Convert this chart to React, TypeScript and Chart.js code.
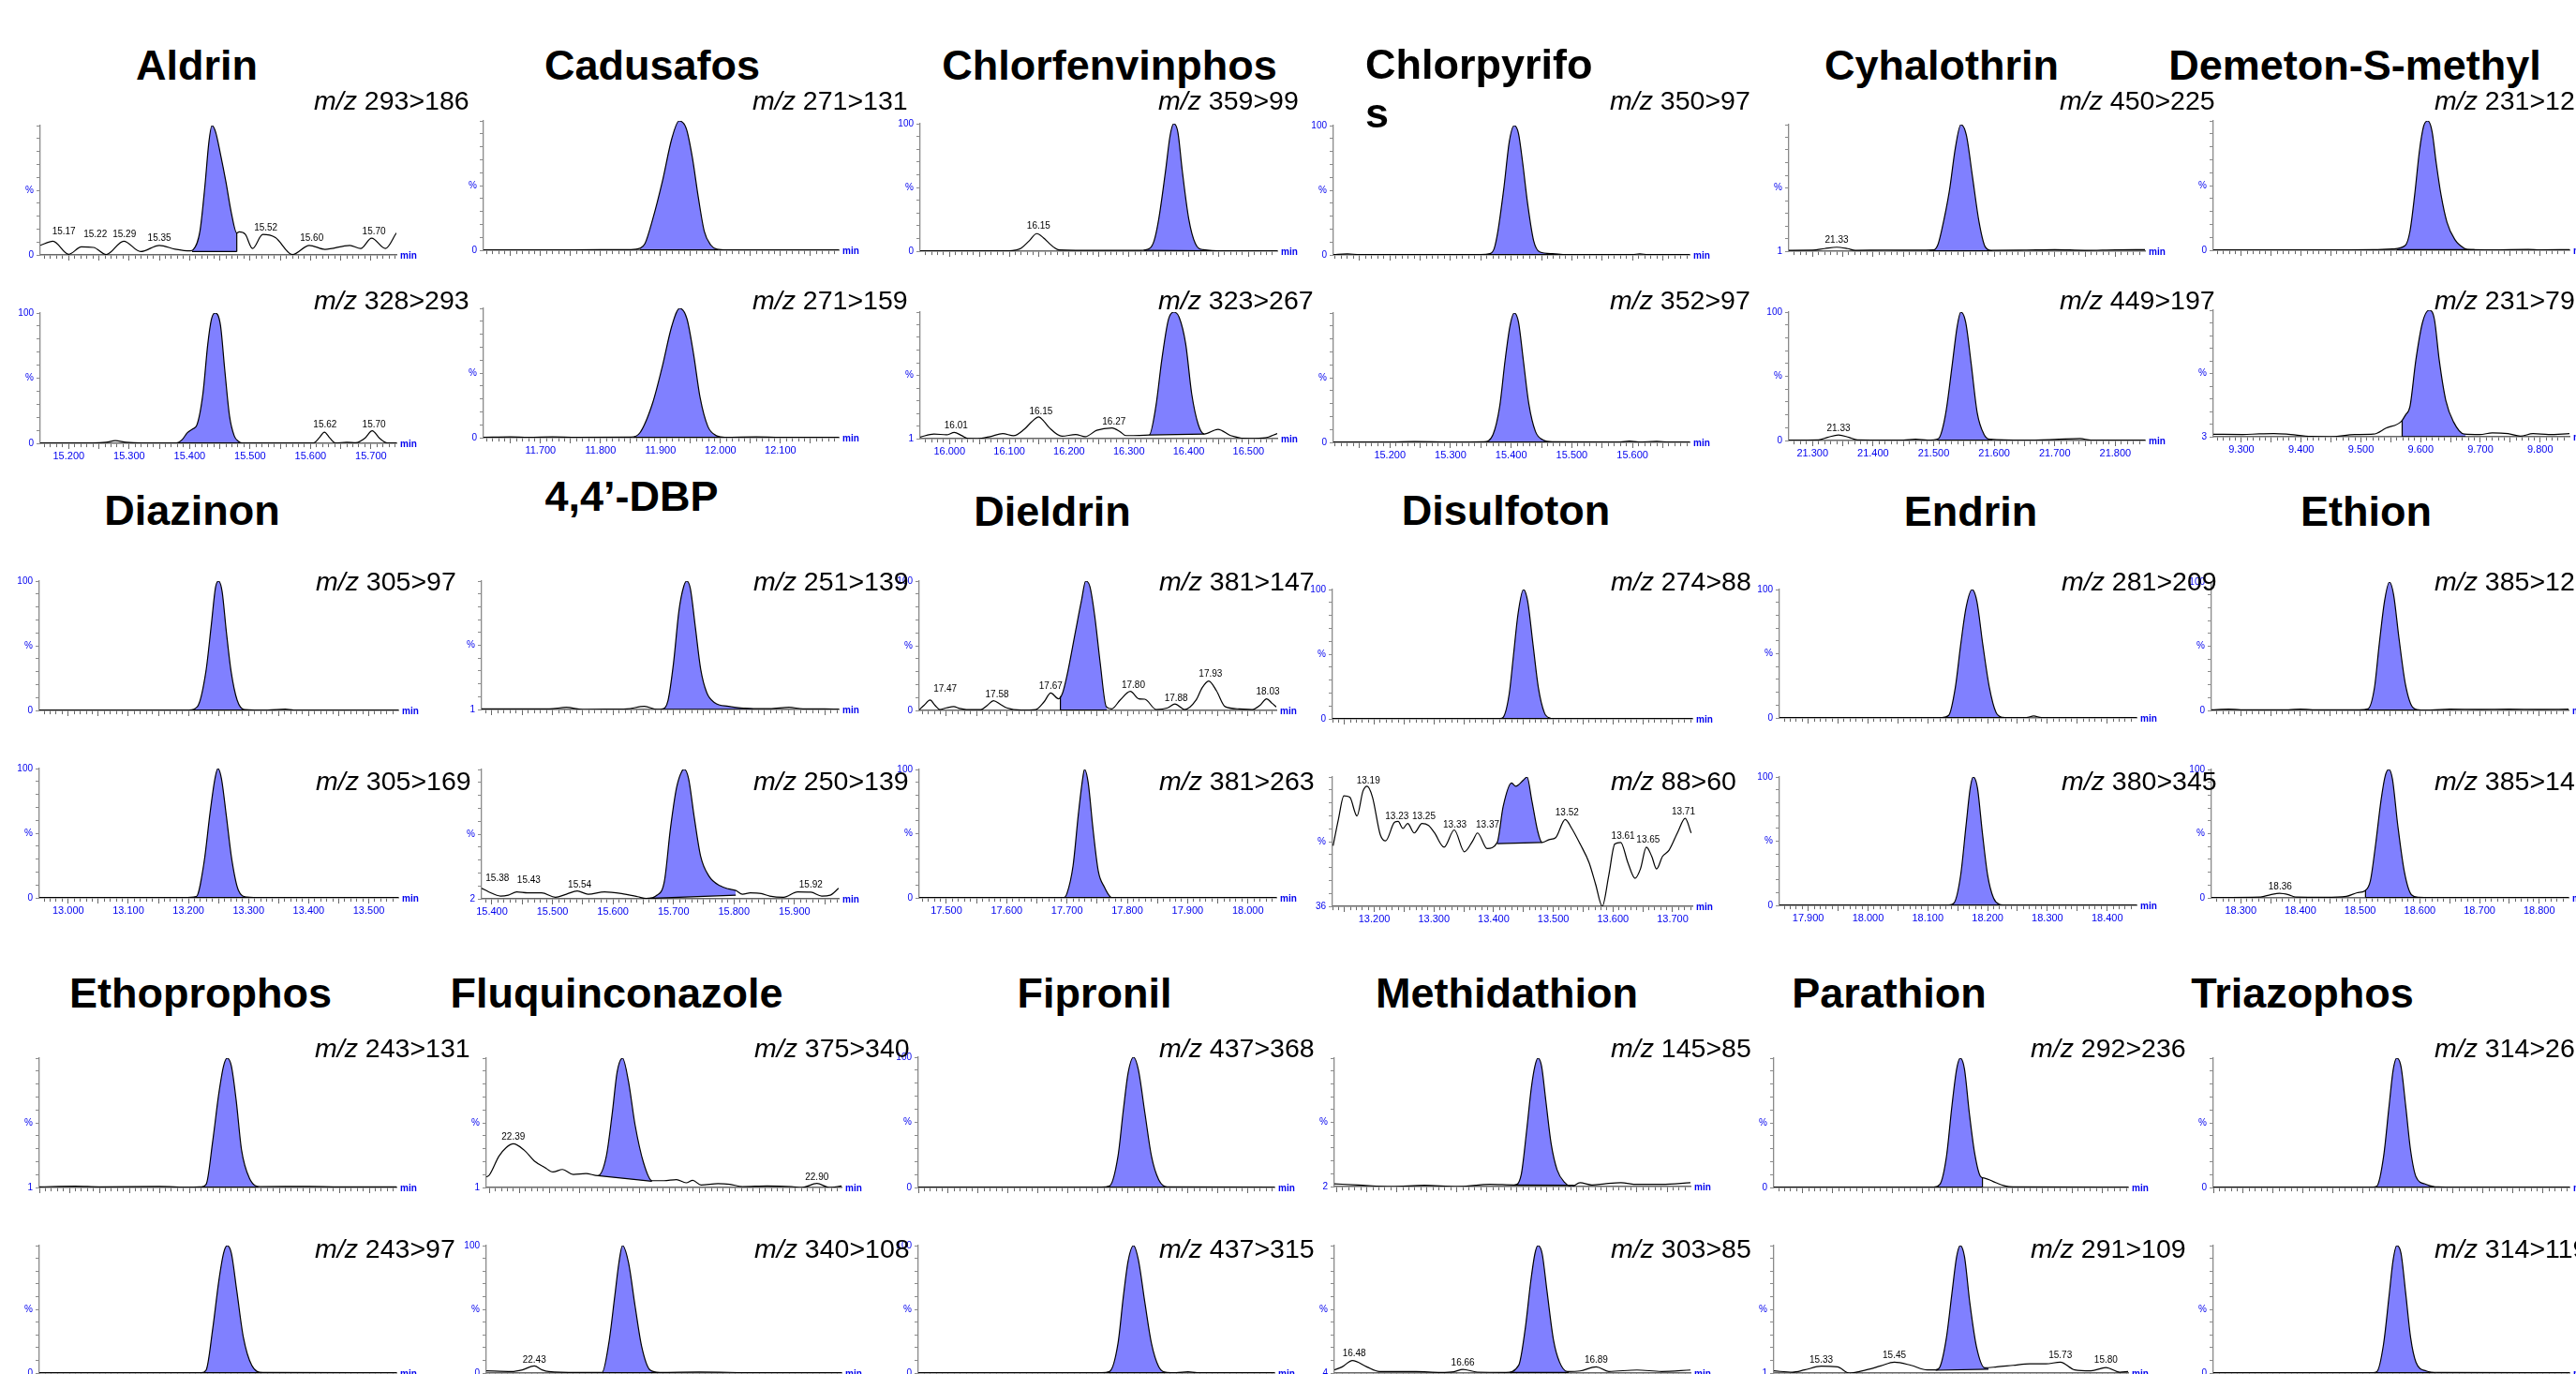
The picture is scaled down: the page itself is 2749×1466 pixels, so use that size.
import React, { useEffect, useRef } from 'react';
import { Chart, registerables } from 'chart.js';

Chart.register(...registerables);

const FONT = '"Liberation Sans", Arial, Helvetica, sans-serif';
const FILL = '#8080ff';
const BLUE = '#0000ee';
const AXIS = '#666666';

type Pt = [number, number];
type Mark = [number, number, string];
type Edge = [number, number, number];

// ---------------- DATA ----------------
const compoundNames = ['Aldrin', 'Cadusafos', 'Chlorfenvinphos', 'Chlorpyrifos', 'Cyhalothrin', 'Demeton-S-methyl',
  'Diazinon', '4,4\u2019-DBP', 'Dieldrin', 'Disulfoton', 'Endrin', 'Ethion',
  'Ethoprophos', 'Fluquinconazole', 'Fipronil', 'Methidathion', 'Parathion', 'Triazophos'];
const transitionTop = ['293>186', '271>131', '359>99', '350>97', '450>225', '231>125', '305>97', '251>139', '381>147',
  '274>88', '281>209', '385>125', '243>131', '375>340', '437>368', '145>85', '292>236', '314>262'];
const transitionBottom = ['328>293', '271>159', '323>267', '352>97', '449>197', '231>79', '305>169', '250>139', '381>263',
  '88>60', '380>345', '385>143', '243>97', '340>108', '437>315', '303>85', '291>109', '314>119'];
const timeStart = [15.153, 11.605, 15.951, 15.107, 21.261, 9.253, 12.952, 15.383, 17.455, 13.130, 17.852, 18.251,
  11.000, 22.345, 15.650, 16.446, 15.252, 19.100];
const timeEnd = [15.742, 12.197, 16.548, 15.694, 21.849, 9.849, 13.549, 15.973, 18.047, 13.733, 18.449, 18.849,
  11.595, 22.937, 16.244, 17.039, 15.843, 19.694];
const xTickLabels: string[][] = [
  ['15.200', '15.300', '15.400', '15.500', '15.600', '15.700'],
  ['11.700', '11.800', '11.900', '12.000', '12.100'],
  ['16.000', '16.100', '16.200', '16.300', '16.400', '16.500'],
  ['15.200', '15.300', '15.400', '15.500', '15.600'],
  ['21.300', '21.400', '21.500', '21.600', '21.700', '21.800'],
  ['9.300', '9.400', '9.500', '9.600', '9.700', '9.800'],
  ['13.000', '13.100', '13.200', '13.300', '13.400', '13.500'],
  ['15.400', '15.500', '15.600', '15.700', '15.800', '15.900'],
  ['17.500', '17.600', '17.700', '17.800', '17.900', '18.000'],
  ['13.200', '13.300', '13.400', '13.500', '13.600', '13.700'],
  ['17.900', '18.000', '18.100', '18.200', '18.300', '18.400'],
  ['18.300', '18.400', '18.500', '18.600', '18.700', '18.800'],
  [], [], [], [], [], [],
];
const yBaseTop = ['0', '0', '0', '0', '1', '0', '0', '1', '0', '0', '0', '0', '1', '1', '0', '2', '0', '0'];
const yBaseBottom = ['0', '0', '1', '0', '0', '3', '0', '2', '0', '36', '0', '0', '0', '0', '0', '4', '1', '0'];
const y100Top = [false, false, true, true, false, false, true, false, true, true, true, true, false, false, true, false, false, false];
const y100Bottom = [true, false, false, false, true, false, true, false, true, false, true, true, false, true, true, false, false, false];

// traces: [retention time (min), relative intensity (%)]
const aldrinTop: Pt[] = [[15.153, 7.4], [15.174, 10.6], [15.200, 0.5], [15.221, 6.2], [15.241, 5.8], [15.262, 0.3], [15.291, 10.6], [15.319, 2.6], [15.350, 7.4], [15.376, 4.5], [15.401, 3.1], [15.406, 4], [15.417, 18.2], [15.425, 51.8], [15.432, 87.8], [15.437, 100], [15.443, 95], [15.451, 78], [15.460, 56.6], [15.469, 32.6], [15.478, 17], [15.482, 17.8], [15.492, 16], [15.504, 5], [15.521, 15.8], [15.542, 13.4], [15.570, 0.3], [15.598, 7.4], [15.624, 4.3], [15.665, 7.4], [15.683, 5], [15.701, 13], [15.724, 5], [15.742, 17]];
const aldrinBottom: Pt[] = [[15.153, 0.3], [15.240, 0.3], [15.262, 0.8], [15.277, 2], [15.295, 0.8], [15.320, 0.3], [15.378, 0.3], [15.388, 3], [15.396, 8], [15.405, 11], [15.412, 14], [15.422, 38], [15.430, 76], [15.436, 95], [15.442, 100], [15.451, 90.7], [15.458, 57], [15.466, 21], [15.474, 5.5], [15.481, 1.5], [15.487, 0.3], [15.605, 0.3], [15.614, 4], [15.623, 8.6], [15.632, 4], [15.641, 0.3], [15.660, 0.8], [15.675, 0.5], [15.690, 4], [15.702, 9.6], [15.714, 4], [15.727, 0.3], [15.742, 0.3]];
const cadusafosTop: Pt[] = [[11.605, 0.3], [11.700, 0.3], [11.800, 0.4], [11.850, 0.5], [11.866, 1.5], [11.874, 5], [11.887, 24], [11.903, 53], [11.919, 86.6], [11.931, 100], [11.943, 94], [11.953, 72], [11.963, 41], [11.973, 14.6], [11.984, 4], [11.994, 0.8], [12.010, 0.3], [12.100, 0.3], [12.197, 0.3]];
const cadusafosBottom: Pt[] = [[11.605, 0.3], [11.650, 0.6], [11.680, 0.3], [11.720, 0.6], [11.760, 0.3], [11.851, 0.5], [11.866, 4], [11.887, 27], [11.903, 55], [11.919, 86.6], [11.932, 100], [11.944, 92], [11.955, 65], [11.966, 31], [11.979, 8.6], [11.994, 1.4], [12.007, 0.3], [12.060, 0.6], [12.100, 0.3], [12.197, 0.3]];
const chlorfenTop: Pt[] = [[15.951, 0.3], [16.100, 0.3], [16.110, 0.8], [16.120, 2.4], [16.133, 8], [16.146, 13.8], [16.157, 10.5], [16.167, 6], [16.176, 2.5], [16.183, 1], [16.250, 0.6], [16.319, 0.6], [16.334, 2], [16.342, 8], [16.350, 25.5], [16.361, 62], [16.369, 91], [16.375, 100], [16.382, 93], [16.389, 64], [16.400, 25.5], [16.411, 6], [16.424, 1.2], [16.460, 0.3], [16.548, 0.3]];
const chlorfenBottom: Pt[] = [[15.951, 2.2], [15.974, 4.6], [15.995, 4], [16.008, 5.8], [16.020, 3.5], [16.031, 1.1], [16.047, 1], [16.068, 2.6], [16.089, 5], [16.107, 3.3], [16.125, 8.3], [16.137, 14], [16.149, 17.9], [16.158, 14.5], [16.167, 9.5], [16.188, 2.9], [16.211, 4.2], [16.227, 2.5], [16.246, 7.5], [16.272, 9.4], [16.285, 6.5], [16.295, 3.4], [16.334, 3.9], [16.345, 26], [16.355, 62.7], [16.366, 94], [16.375, 100], [16.384, 96], [16.395, 75], [16.405, 36], [16.416, 12], [16.426, 4.6], [16.449, 8.3], [16.470, 3.4], [16.502, 1.1], [16.528, 1.6], [16.548, 5]];
const chlorpyrTop: Pt[] = [[15.107, 0.3], [15.130, 0.8], [15.150, 0.3], [15.250, 0.3], [15.350, 0.3], [15.365, 1], [15.372, 5], [15.378, 18], [15.388, 52], [15.397, 88], [15.405, 100], [15.412, 94], [15.419, 71], [15.427, 40], [15.437, 11], [15.447, 2.4], [15.468, 1], [15.491, 0.3], [15.600, 0.3], [15.612, 0.8], [15.625, 0.3], [15.694, 0.3]];
const chlorpyrBottom: Pt[] = [[15.107, 0.3], [15.200, 0.3], [15.240, 0.6], [15.300, 0.3], [15.355, 0.5], [15.370, 6], [15.381, 27.6], [15.390, 63.6], [15.398, 90], [15.405, 100], [15.412, 93], [15.420, 63.6], [15.429, 30], [15.440, 8.4], [15.452, 2], [15.468, 0.5], [15.580, 0.3], [15.595, 1], [15.610, 0.3], [15.640, 0.8], [15.660, 0.3], [15.694, 0.3]];
const cyhaloTop: Pt[] = [[21.261, 1.7], [21.300, 1.8], [21.320, 3], [21.340, 4.1], [21.358, 3], [21.371, 1.7], [21.420, 1.9], [21.470, 1.8], [21.500, 2], [21.507, 6], [21.513, 16.7], [21.526, 48], [21.536, 82], [21.545, 100], [21.554, 92], [21.564, 60], [21.575, 24], [21.585, 4.6], [21.595, 1.7], [21.650, 1.9], [21.700, 2.2], [21.750, 1.7], [21.800, 2.1], [21.849, 2.2]];
const cyhaloBottom: Pt[] = [[21.261, 0.3], [21.310, 0.5], [21.325, 2.5], [21.343, 4.3], [21.360, 2.5], [21.374, 0.5], [21.450, 0.3], [21.470, 1], [21.490, 0.3], [21.508, 1.5], [21.514, 8], [21.521, 24], [21.531, 60], [21.539, 89], [21.545, 100], [21.553, 92], [21.562, 60], [21.572, 21.7], [21.583, 5], [21.593, 1], [21.650, 0.3], [21.700, 0.8], [21.742, 1.5], [21.760, 0.3], [21.849, 0.3]];
const demetonTop: Pt[] = [[9.253, 0.3], [9.400, 0.3], [9.480, 0.3], [9.521, 0.4], [9.553, 1], [9.574, 3.6], [9.582, 14.5], [9.590, 43], [9.598, 77], [9.605, 96], [9.612, 100], [9.619, 92], [9.626, 67.5], [9.634, 43], [9.644, 21.7], [9.657, 8.4], [9.673, 1.5], [9.684, 0.4], [9.720, 0.3], [9.780, 0.6], [9.800, 0.3], [9.849, 0.5]];
const demetonBottom: Pt[] = [[9.253, 4.9], [9.302, 4.7], [9.330, 5.2], [9.354, 5.4], [9.375, 5], [9.417, 3.2], [9.448, 3], [9.490, 4.7], [9.521, 5], [9.542, 9.6], [9.568, 15], [9.575, 20], [9.582, 26], [9.592, 62], [9.603, 90.5], [9.614, 100], [9.623, 93], [9.631, 62], [9.642, 31], [9.655, 14.4], [9.673, 5], [9.699, 4.7], [9.720, 6], [9.746, 5.4], [9.767, 3.5], [9.788, 5.4], [9.814, 4.7], [9.849, 5.4]];
const diazinonTop: Pt[] = [[12.952, 0.3], [13.100, 0.3], [13.201, 0.3], [13.215, 3], [13.229, 30], [13.238, 66], [13.245, 95], [13.250, 100], [13.256, 92], [13.263, 61], [13.271, 30], [13.281, 8], [13.293, 0.7], [13.332, 0.3], [13.361, 1], [13.375, 0.3], [13.549, 0.3]];
const diazinonBottom: Pt[] = [[12.952, 0.3], [13.192, 0.3], [13.213, 1], [13.226, 27.6], [13.236, 66], [13.244, 92], [13.249, 100], [13.255, 92], [13.263, 63.5], [13.272, 30], [13.283, 6], [13.297, 0.7], [13.324, 0.3], [13.549, 0.3]];
const dbpTop: Pt[] = [[15.383, 1.5], [15.450, 1.5], [15.495, 1.5], [15.523, 2.7], [15.550, 1], [15.586, 1.2], [15.623, 1.5], [15.652, 3.4], [15.673, 1.1], [15.682, 1.5], [15.691, 8], [15.700, 36.5], [15.709, 77], [15.717, 96], [15.722, 100], [15.728, 94], [15.736, 65], [15.745, 32], [15.755, 14], [15.768, 6.3], [15.791, 3.4], [15.818, 2], [15.832, 1.7], [15.859, 1.7], [15.891, 2.7], [15.914, 1.5], [15.950, 1.4], [15.973, 1.2]];
const dbpBottom: Pt[] = [[15.383, 10], [15.395, 7.2], [15.414, 4.1], [15.427, 4.8], [15.441, 7.2], [15.459, 6.5], [15.482, 6.5], [15.505, 3.2], [15.523, 5.5], [15.541, 7.9], [15.559, 5.5], [15.586, 7.2], [15.614, 6], [15.641, 3.6], [15.655, 2.2], [15.673, 4.8], [15.685, 15.4], [15.695, 55.3], [15.705, 86], [15.714, 98.8], [15.718, 100], [15.725, 93], [15.734, 64.8], [15.745, 34], [15.759, 19], [15.777, 11.9], [15.791, 9.5], [15.803, 8.3], [15.814, 5.5], [15.827, 6.5], [15.845, 6], [15.859, 4.1], [15.882, 3.2], [15.905, 7.2], [15.927, 7], [15.945, 4.1], [15.959, 4.8], [15.973, 10]];
const dieldrinTop: Pt[] = [[17.455, 0.5], [17.463, 4], [17.473, 8], [17.481, 4], [17.489, 0.7], [17.500, 2], [17.512, 3], [17.522, 1.5], [17.533, 0.7], [17.557, 0.7], [17.568, 4], [17.578, 7.5], [17.590, 4.5], [17.600, 2], [17.624, 0.3], [17.648, 0.7], [17.662, 6.7], [17.673, 13.5], [17.686, 9], [17.693, 14], [17.700, 27], [17.714, 61], [17.724, 85], [17.731, 100], [17.738, 95.7], [17.746, 72.8], [17.755, 36.8], [17.765, 3], [17.774, 1.2], [17.788, 8], [17.805, 14.7], [17.819, 9], [17.829, 8.7], [17.848, 0.7], [17.867, 2], [17.879, 5], [17.895, 0.7], [17.914, 8], [17.924, 17.5], [17.935, 22.8], [17.948, 15], [17.962, 3], [17.986, 1.2], [18.007, 0.7], [18.020, 4], [18.031, 9], [18.040, 5.5], [18.047, 2.6]];
const dieldrinBottom: Pt[] = [[17.455, 0.3], [17.600, 0.3], [17.695, 0.3], [17.700, 3.6], [17.710, 25], [17.719, 66], [17.726, 93], [17.729, 100], [17.735, 90], [17.743, 54], [17.752, 20.5], [17.762, 8.4], [17.771, 1.2], [17.774, 0.3], [18.047, 0.3]];
const disulfotonTop: Pt[] = [[13.130, 0.3], [13.300, 0.3], [13.411, 0.3], [13.416, 1.2], [13.426, 19], [13.433, 48], [13.441, 81.5], [13.450, 100], [13.457, 91], [13.466, 57.5], [13.475, 24], [13.485, 4.8], [13.495, 0.5], [13.498, 0.3], [13.733, 0.3]];
const disulfotonBottom: Pt[] = [[13.131, 66], [13.140, 79.2], [13.149, 90.7], [13.159, 90], [13.171, 80.7], [13.181, 93], [13.188, 95.4], [13.197, 90], [13.210, 71.5], [13.219, 68.4], [13.234, 77.6], [13.240, 78], [13.248, 74.5], [13.256, 77], [13.267, 72.3], [13.280, 77], [13.291, 76], [13.301, 72.3], [13.317, 65.3], [13.334, 73.8], [13.351, 63], [13.365, 68.4], [13.373, 72.3], [13.389, 64.6], [13.406, 67.6], [13.416, 85.4], [13.430, 97], [13.437, 95.4], [13.450, 98.5], [13.456, 100], [13.464, 88.4], [13.474, 73], [13.481, 67.6], [13.493, 69], [13.504, 70], [13.520, 79], [13.531, 74.5], [13.545, 66.8], [13.560, 57.6], [13.571, 46.8], [13.582, 36], [13.593, 51.4], [13.603, 66.8], [13.613, 67.6], [13.625, 57.6], [13.637, 49.9], [13.646, 54.5], [13.656, 65.3], [13.665, 60.7], [13.673, 54.5], [13.683, 60.7], [13.694, 63.8], [13.709, 73], [13.721, 79.5], [13.731, 72.3]];
const endrinTop: Pt[] = [[17.852, 0.3], [18.000, 0.3], [18.124, 0.3], [18.135, 2], [18.146, 23.6], [18.155, 57], [18.164, 86], [18.174, 100], [18.182, 91], [18.192, 57], [18.203, 23.6], [18.214, 4.3], [18.225, 0.5], [18.234, 0.3], [18.265, 0.3], [18.277, 1.5], [18.290, 0.3], [18.449, 0.3]];
const endrinBottom: Pt[] = [[17.852, 0.3], [18.135, 0.3], [18.144, 2], [18.155, 23.7], [18.164, 62.5], [18.171, 91.5], [18.176, 100], [18.183, 91.5], [18.191, 57.6], [18.200, 23.7], [18.210, 5.6], [18.220, 0.7], [18.225, 0.3], [18.449, 0.3]];
const ethionTop: Pt[] = [[18.251, 0.5], [18.280, 1], [18.300, 0.5], [18.380, 0.5], [18.400, 1], [18.420, 0.5], [18.499, 0.5], [18.513, 1.2], [18.524, 17.7], [18.532, 51.6], [18.541, 85.5], [18.549, 100], [18.556, 90.3], [18.565, 56.4], [18.576, 20], [18.589, 2], [18.602, 0.3], [18.618, 0.3], [18.650, 1], [18.700, 0.8], [18.750, 1], [18.800, 0.8], [18.849, 1]];
const ethionBottom: Pt[] = [[18.251, 0.3], [18.333, 0.7], [18.350, 2.5], [18.365, 3.6], [18.380, 2.5], [18.392, 0.7], [18.441, 0.5], [18.477, 1.2], [18.495, 4], [18.508, 5.5], [18.517, 13], [18.526, 42], [18.535, 76], [18.542, 95], [18.548, 100], [18.554, 92.8], [18.563, 56.6], [18.574, 20.5], [18.586, 2.4], [18.598, 0.5], [18.620, 0.3], [18.849, 0.3]];
const ethoproTop: Pt[] = [[11.000, 1.5], [11.060, 2], [11.100, 1.5], [11.200, 1.8], [11.251, 1.2], [11.270, 1.5], [11.278, 3.4], [11.289, 36.8], [11.299, 72.6], [11.307, 94], [11.313, 100], [11.320, 94], [11.328, 67.8], [11.337, 29.6], [11.350, 8.2], [11.368, 1.7], [11.450, 1.8], [11.500, 1.5], [11.595, 1.5]];
const ethoproBottom: Pt[] = [[11.000, 0.3], [11.270, 0.3], [11.278, 2.4], [11.289, 35], [11.299, 72], [11.307, 94], [11.313, 100], [11.320, 94], [11.329, 64.6], [11.340, 28], [11.354, 6], [11.372, 0.5], [11.595, 0.3]];
const fluquinTop: Pt[] = [[22.345, 9], [22.350, 10.5], [22.366, 24.9], [22.378, 31.5], [22.390, 34.4], [22.408, 29.6], [22.425, 21.3], [22.442, 16.5], [22.456, 12.9], [22.472, 14.8], [22.490, 11], [22.511, 11.7], [22.531, 10], [22.545, 24.9], [22.555, 58.3], [22.563, 89.3], [22.572, 100], [22.582, 82], [22.593, 48.7], [22.607, 20], [22.621, 6.2], [22.641, 6.2], [22.662, 7], [22.678, 4.6], [22.689, 6.5], [22.703, 2.9], [22.731, 3.9], [22.751, 3.4], [22.772, 1.7], [22.813, 2.2], [22.854, 1.7], [22.871, 1], [22.896, 4.1], [22.917, 1], [22.937, 2.2]];
const fluquinBottom: Pt[] = [[22.345, 1.7], [22.387, 1.2], [22.405, 2.5], [22.425, 5.6], [22.438, 2.5], [22.449, 1.2], [22.497, 0.5], [22.538, 0.5], [22.549, 23], [22.559, 60], [22.566, 86.6], [22.572, 100], [22.582, 86.6], [22.593, 52.4], [22.604, 20.7], [22.618, 2.4], [22.634, 0.5], [22.700, 0.8], [22.800, 0.3], [22.937, 0.3]];
const fipronilTop: Pt[] = [[15.650, 0.3], [15.900, 0.3], [15.955, 0.3], [15.969, 1.2], [15.983, 23.8], [15.992, 59.5], [16.000, 88], [16.009, 100], [16.017, 90.5], [16.028, 57], [16.039, 23.8], [16.051, 6], [16.065, 0.5], [16.244, 0.3]];
const fipronilBottom: Pt[] = [[15.650, 0.3], [15.955, 0.3], [15.969, 1.2], [15.983, 23], [15.992, 60], [16.000, 88], [16.009, 100], [16.017, 89], [16.028, 55], [16.039, 23], [16.051, 5], [16.065, 0.5], [16.080, 0.3], [16.100, 1], [16.115, 0.3], [16.244, 0.3]];
const methidaTop: Pt[] = [[16.446, 4.1], [16.486, 3.2], [16.541, 2], [16.596, 3], [16.650, 2], [16.705, 3.7], [16.746, 3.2], [16.757, 10.8], [16.766, 44], [16.774, 77.4], [16.780, 94], [16.785, 100], [16.791, 94], [16.798, 68], [16.807, 34.6], [16.817, 14.6], [16.830, 4.9], [16.841, 2], [16.855, 4.9], [16.875, 3.2], [16.896, 4.1], [16.923, 4.9], [16.950, 3.7], [16.991, 3.7], [17.039, 4.9]];
const methidaBottom: Pt[] = [[16.446, 6.3], [16.459, 8.7], [16.476, 13.4], [16.500, 8.7], [16.521, 5.2], [16.582, 5.2], [16.623, 4.5], [16.645, 5], [16.660, 6.8], [16.684, 4.7], [16.732, 4.5], [16.753, 9.9], [16.764, 38], [16.773, 73], [16.780, 94], [16.785, 100], [16.792, 94], [16.800, 66], [16.811, 28.6], [16.821, 12.2], [16.834, 5.2], [16.855, 5.6], [16.882, 8.7], [16.903, 5.2], [16.950, 6.3], [16.991, 5.2], [17.039, 6.3]];
const parathionTop: Pt[] = [[15.252, 0.3], [15.400, 0.3], [15.519, 0.3], [15.529, 2.4], [15.540, 24], [15.549, 62.7], [15.557, 91.6], [15.563, 100], [15.570, 91.6], [15.578, 58], [15.587, 26.5], [15.597, 8.4], [15.604, 7.2], [15.617, 4.8], [15.638, 1.2], [15.651, 0.5], [15.843, 0.3]];
const parathionBottom: Pt[] = [[15.252, 2.7], [15.283, 1.7], [15.303, 3.4], [15.331, 6.3], [15.358, 5.8], [15.378, 1], [15.406, 3.4], [15.430, 6.5], [15.453, 9.5], [15.481, 7], [15.508, 3.4], [15.522, 3.4], [15.529, 5.8], [15.540, 28.8], [15.549, 62.6], [15.557, 91.5], [15.563, 100], [15.570, 91.5], [15.579, 55.3], [15.590, 21.5], [15.604, 5.1], [15.624, 5.8], [15.651, 7], [15.679, 8.2], [15.706, 8.2], [15.730, 9.5], [15.754, 3.4], [15.781, 2.7], [15.806, 5.3], [15.829, 1.7], [15.843, 2.2]];
const triazoTop: Pt[] = [[19.100, 0.3], [19.300, 0.3], [19.366, 0.3], [19.373, 1.2], [19.384, 24], [19.393, 62.4], [19.400, 91], [19.406, 100], [19.413, 93.5], [19.421, 62.4], [19.429, 28.8], [19.438, 8.4], [19.455, 2.4], [19.468, 0.7], [19.475, 0.5], [19.500, 0.3], [19.694, 0.3]];
const triazoBottom: Pt[] = [[19.100, 0.3], [19.366, 0.3], [19.373, 1.2], [19.384, 23], [19.393, 60], [19.400, 89], [19.406, 100], [19.413, 94], [19.421, 62], [19.429, 28], [19.438, 8.5], [19.455, 1.7], [19.475, 0.5], [19.694, 0.3]];

// integration baselines of the shaded peaks
const baseTop: Pt[][] = [
  [[15.404, 2.6], [15.478, 2.6]], [[11.866, 0.3], [11.996, 0.3]], [[16.325, 0.6], [16.440, 0.3]], [[15.355, 0.3], [15.480, 0.3]],
  [[21.493, 1.3], [21.597, 1.3]], [[9.560, 0.4], [9.690, 0.4]], [[13.201, 0.3], [13.332, 0.3]], [[15.682, 1.1], [15.832, 1.1]],
  [[17.688, 0.3], [17.766, 0.3]], [[13.411, 0.3], [13.498, 0.3]], [[18.124, 0.3], [18.234, 0.3]], [[18.499, 0.3], [18.618, 0.3]],
  [[11.262, 1.2], [11.365, 1.2]], [[22.531, 10], [22.621, 5.7]], [[15.955, 0.3], [16.065, 0.3]], [[16.746, 3.2], [16.845, 3]],
  [[15.519, 0.3], [15.600, 0.3]], [[19.366, 0.3], [19.470, 0.3]],
];
const baseBottom: Pt[][] = [
  [[15.378, 0.3], [15.487, 0.3]], [[11.855, 0.3], [12.015, 0.3]], [[16.334, 3.9], [16.426, 4.6]], [[15.350, 0.3], [15.470, 0.3]],
  [[21.506, 0.3], [21.597, 0.3]], [[9.569, 3.1], [9.675, 3.1]], [[13.192, 0.3], [13.324, 0.3]], [[15.655, 2.2], [15.803, 4.8]],
  [[17.695, 0.3], [17.774, 0.3]], [[13.406, 67], [13.481, 67.6]], [[18.135, 0.3], [18.225, 0.3]], [[18.509, 0.3], [18.620, 0.3]],
  [[11.265, 0.3], [11.372, 0.3]], [[22.538, 0.3], [22.634, 0.3]], [[15.955, 0.3], [16.065, 0.3]], [[16.738, 4.5], [16.836, 4.5]],
  [[15.522, 3.2], [15.610, 4]], [[19.366, 0.3], [19.470, 0.3]],
];
// vertical drop lines at integration limits [time, low, high]
const edgesTop: Edge[][] = [[[15.478, 2.6, 17]], [], [], [], [], [], [], [], [[17.689, 0.3, 11]], [], [], [], [], [], [], [], [[15.600, 0.3, 7.9]], []];
const edgesBottom: Edge[][] = [[], [], [], [], [], [[9.569, 3.1, 15.6]], [], [], [], [], [], [[18.509, 0.3, 5.8]], [], [], [], [], [], []];

// peak apex annotations [time, intensity, text]
const marksTop: Mark[][] = [
  [[15.192, 18.2, '15.17'], [15.244, 15.8, '15.22'], [15.292, 15.8, '15.29'], [15.350, 12.7, '15.35'], [15.526, 20.6, '15.52'], [15.602, 12.7, '15.60'], [15.705, 17.8, '15.70']],
  [], [[16.149, 19.4, '16.15']], [], [[21.340, 9.4, '21.33']], [], [], [],
  [[17.498, 16.3, '17.47'], [17.584, 12.3, '17.58'], [17.673, 18.3, '17.67'], [17.810, 19.5, '17.80'], [17.881, 9.1, '17.88'], [17.938, 28.4, '17.93'], [18.033, 14.4, '18.03']],
  [], [], [], [], [[22.390, 39.6, '22.39'], [22.896, 8.6, '22.90']], [], [], [], [],
];
const marksBottom: Mark[][] = [
  [[15.624, 14.3, '15.62'], [15.705, 14.3, '15.70']], [],
  [[16.011, 11.2, '16.01'], [16.153, 22, '16.15'], [16.275, 13.8, '16.27']], [],
  [[21.343, 9.6, '21.33']], [], [],
  [[15.409, 17.3, '15.38'], [15.461, 15.9, '15.43'], [15.545, 12.3, '15.54'], [15.927, 12.3, '15.92']],
  [],
  [[13.190, 98.2, '13.19'], [13.238, 80.4, '13.23'], [13.283, 80.4, '13.25'], [13.335, 76.4, '13.33'], [13.390, 76.4, '13.37'], [13.523, 82.3, '13.52'], [13.617, 70.7, '13.61'], [13.659, 68.7, '13.65'], [13.718, 82.6, '13.71']],
  [], [[18.366, 8.9, '18.36']], [], [[22.425, 10.2, '22.43']], [],
  [[16.479, 18.8, '16.48'], [16.660, 11.7, '16.66'], [16.882, 13.4, '16.89']],
  [[15.331, 10.7, '15.33'], [15.453, 14.3, '15.45'], [15.730, 14.8, '15.73'], [15.806, 10.7, '15.80']],
  [],
];

const traceTop: Pt[][] = [aldrinTop, cadusafosTop, chlorfenTop, chlorpyrTop, cyhaloTop, demetonTop, diazinonTop, dbpTop, dieldrinTop,
  disulfotonTop, endrinTop, ethionTop, ethoproTop, fluquinTop, fipronilTop, methidaTop, parathionTop, triazoTop];
const traceBottom: Pt[][] = [aldrinBottom, cadusafosBottom, chlorfenBottom, chlorpyrBottom, cyhaloBottom, demetonBottom, diazinonBottom,
  dbpBottom, dieldrinBottom, disulfotonBottom, endrinBottom, ethionBottom, ethoproBottom, fluquinBottom, fipronilBottom, methidaBottom,
  parathionBottom, triazoBottom];

// ---------------- LAYOUT (pixels) ----------------
// [axisLeft, axisRight, topPanelTop, topPanelBottom, bottomPanelTop, bottomPanelBottom]
const panelBox = [
  [43, 423, 133, 272, 333, 473], [516, 895, 128, 267, 328, 467], [982, 1363, 131, 268, 332, 468],
  [1423, 1803, 133, 272, 333, 472], [1909, 2289, 132, 268, 332, 470], [2362, 2742, 128, 267, 330, 466],
  [42, 425, 619, 758, 819, 958], [514, 895, 619, 757, 820, 959], [981, 1362, 619, 758, 820, 958],
  [1422, 1806, 628, 767, 828, 967], [1899, 2280, 628, 766, 828, 966], [2360, 2741, 620, 758, 820, 958],
  [42, 423, 1128, 1267, 1328, 1465], [519, 898, 1128, 1267, 1328, 1465], [980, 1360, 1127, 1267, 1328, 1465],
  [1424, 1804, 1128, 1266, 1328, 1465], [1893, 2271, 1128, 1267, 1328, 1465], [2362, 2742, 1128, 1267, 1328, 1465],
];
// [centerX, baselineY]
const titlePos = [
  [210, 85], [696, 85], [1184, 85], [1457, 85], [2072, 85], [2513, 85],
  [205, 560], [674, 545], [1123, 561], [1607, 560], [2103, 561], [2525, 561],
  [214, 1075], [658, 1075], [1168, 1075], [1608, 1075], [2016, 1075], [2457, 1075],
];
// [leftX, baselineTop, baselineBottom]
const mzPos = [
  [335, 117, 330], [803, 117, 330], [1236, 117, 330], [1718, 117, 330], [2198, 117, 330], [2598, 117, 330],
  [337, 630, 843], [804, 630, 843], [1237, 630, 843], [1719, 630, 843], [2200, 630, 843], [2598, 630, 843],
  [336, 1128, 1342], [805, 1128, 1342], [1237, 1128, 1342], [1719, 1128, 1342], [2167, 1128, 1342], [2598, 1128, 1342],
];

const Y_AXIS_W = 40;
const X_AXIS_H = 28;
const PAD_T = 8;
const PAD_R = 24;

interface PanelSpec {
  L: number; R: number; T: number; B: number;
  t0: number; t1: number; yMin: number; bottomLabel: string; showTop: boolean;
  trace: Pt[]; base: Pt[]; edges: Edge[]; marks: Mark[]; xLabels: string[];
}

function Panel({ s }: { s: PanelSpec }) {
  const ref = useRef<HTMLCanvasElement | null>(null);
  const w = Y_AXIS_W + (s.R - s.L) + PAD_R;
  const h = PAD_T + (s.B - s.T) + X_AXIS_H;
  useEffect(() => {
    if (!ref.current) return;
    const lineDs = (pts: Pt[]) => pts.map(([x, y]) => ({ x, y }));
    const datasets: any[] = [
      {
        data: lineDs(s.trace), borderColor: '#000', borderWidth: 1.2, pointRadius: 0,
        cubicInterpolationMode: 'monotone', backgroundColor: FILL,
        fill: { target: 1, above: FILL, below: FILL },
      },
      { data: lineDs(s.base), borderColor: '#000', borderWidth: 1.2, pointRadius: 0, fill: false, tension: 0 },
      ...s.edges.map(([x, lo, hi]) => ({
        data: [{ x, y: lo }, { x, y: hi }], borderColor: '#000', borderWidth: 1.2, pointRadius: 0, fill: false, tension: 0,
      })),
    ];
    const yTicks: number[] = [];
    for (let k = 0; k <= 10; k++) yTicks.push(s.yMin + (k * (100 - s.yMin)) / 10);
    const isMajor = (v: number) => Math.abs(v * 20 - Math.round(v * 20)) < 1e-6;
    const chart = new Chart(ref.current, {
      type: 'line',
      data: { datasets },
      options: {
        animation: false,
        responsive: false,
        maintainAspectRatio: false,
        devicePixelRatio: 1,
        events: [],
        layout: { padding: { left: 0, right: PAD_R, top: PAD_T, bottom: 0 } },
        plugins: { legend: { display: false }, tooltip: { enabled: false }, filler: { drawTime: 'beforeDatasetsDraw' } } as any,
        scales: {
          x: {
            type: 'linear', min: s.t0, max: s.t1, position: 'bottom',
            afterBuildTicks: (sc: any) => {
              const ticks: any[] = [];
              for (let k = Math.ceil(s.t0 * 100 - 1e-6); k <= Math.floor(s.t1 * 100 + 1e-6); k++) ticks.push({ value: k / 100 });
              sc.ticks = ticks;
            },
            afterFit: (sc: any) => { sc.height = X_AXIS_H; },
            grid: {
              display: true, drawOnChartArea: false, drawTicks: true, tickLength: 6, tickColor: AXIS, tickWidth: 1,
              tickBorderDash: (c: any) => (c.tick && isMajor(c.tick.value) ? [] : [3.5, 12]),
            } as any,
            border: { display: true, color: AXIS, width: 1.6 },
            ticks: {
              autoSkip: false, maxRotation: 0, minRotation: 0, padding: 1, color: BLUE,
              font: { size: 11, family: FONT },
              callback: (v: any) => {
                const lab = s.xLabels.find((l) => Math.abs(parseFloat(l) - Number(v)) < 1e-6);
                return lab ?? '';
              },
            },
          },
          y: {
            type: 'linear', min: s.yMin, max: 100,
            afterBuildTicks: (sc: any) => { sc.ticks = yTicks.map((v) => ({ value: v })); },
            afterFit: (sc: any) => { sc.width = Y_AXIS_W; },
            grid: { display: true, drawOnChartArea: false, drawTicks: true, tickLength: 4, tickColor: '#8a8a8a', tickWidth: 1 },
            border: { display: true, color: '#8a8a8a', width: 1.3 },
            ticks: {
              autoSkip: false, padding: 3, color: BLUE, font: { size: 10, family: FONT },
              callback: (_v: any, i: number) => (i === 0 ? s.bottomLabel : i === 5 ? '%' : i === 10 && s.showTop ? '100' : ''),
            },
          },
        },
      },
      plugins: [
        {
          id: 'peakMarks',
          afterDatasetsDraw(c: any) {
            const { ctx } = c;
            const xs = c.scales.x;
            const ys = c.scales.y;
            ctx.save();
            ctx.fillStyle = '#000';
            ctx.font = `10px ${FONT}`;
            ctx.textAlign = 'center';
            ctx.textBaseline = 'middle';
            for (const [t, v, txt] of s.marks) ctx.fillText(txt, xs.getPixelForValue(t), ys.getPixelForValue(v));
            ctx.fillStyle = BLUE;
            ctx.font = `bold 10px ${FONT}`;
            ctx.textAlign = 'left';
            ctx.fillText('min', c.chartArea.right + 4, c.chartArea.bottom + 1);
            ctx.restore();
          },
        },
      ],
    } as any);
    return () => chart.destroy();
  }, []);
  return (
    <canvas
      ref={ref}
      width={w}
      height={h}
      style={{ position: 'absolute', left: s.L - Y_AXIS_W, top: s.T - PAD_T, width: w, height: h }}
    />
  );
}

export default function App() {
  const panels: PanelSpec[] = [];
  compoundNames.forEach((_, i) => {
    const [L, R, tT, tB, bT, bB] = panelBox[i];
    panels.push({
      L, R, T: tT, B: tB, t0: timeStart[i], t1: timeEnd[i], yMin: parseFloat(yBaseTop[i]), bottomLabel: yBaseTop[i],
      showTop: y100Top[i], trace: traceTop[i], base: baseTop[i], edges: edgesTop[i], marks: marksTop[i], xLabels: [],
    });
    panels.push({
      L, R, T: bT, B: bB, t0: timeStart[i], t1: timeEnd[i], yMin: parseFloat(yBaseBottom[i]), bottomLabel: yBaseBottom[i],
      showTop: y100Bottom[i], trace: traceBottom[i], base: baseBottom[i], edges: edgesBottom[i], marks: marksBottom[i],
      xLabels: xTickLabels[i],
    });
  });

  const titleFs = 45;
  const mzFs = 28.5;

  return (
    <div
      style={{
        position: 'absolute', left: 0, top: 0, width: 2749, height: 1466, overflow: 'hidden',
        background: '#fff', fontFamily: FONT, color: '#000',
      }}
    >
      {panels.map((p, k) => <Panel key={k} s={p} />)}
      {compoundNames.map((name, i) => {
        const [cx, base] = titlePos[i];
        if (name === 'Chlorpyrifos') {
          return (
            <div key={'t' + i} style={{
              position: 'absolute', left: cx, top: base - 41.6, width: 255, fontSize: titleFs, fontWeight: 'bold',
              lineHeight: '52px', wordBreak: 'break-all', textAlign: 'left',
            }}>{name}</div>
          );
        }
        return (
          <div key={'t' + i} style={{
            position: 'absolute', left: cx - 300, width: 600, top: base - 38, fontSize: titleFs, fontWeight: 'bold',
            lineHeight: `${titleFs}px`, textAlign: 'center', whiteSpace: 'nowrap',
          }}>{name}</div>
        );
      })}
      {compoundNames.map((_, i) => {
        const [x, b1, b2] = mzPos[i];
        const st = (b: number): React.CSSProperties => ({
          position: 'absolute', left: x, top: b - 24, fontSize: mzFs, lineHeight: `${mzFs}px`, whiteSpace: 'nowrap',
        });
        return (
          <React.Fragment key={'m' + i}>
            <div style={st(b1)}><i>m/z</i> {transitionTop[i]}</div>
            <div style={st(b2)}><i>m/z</i> {transitionBottom[i]}</div>
          </React.Fragment>
        );
      })}
    </div>
  );
}
